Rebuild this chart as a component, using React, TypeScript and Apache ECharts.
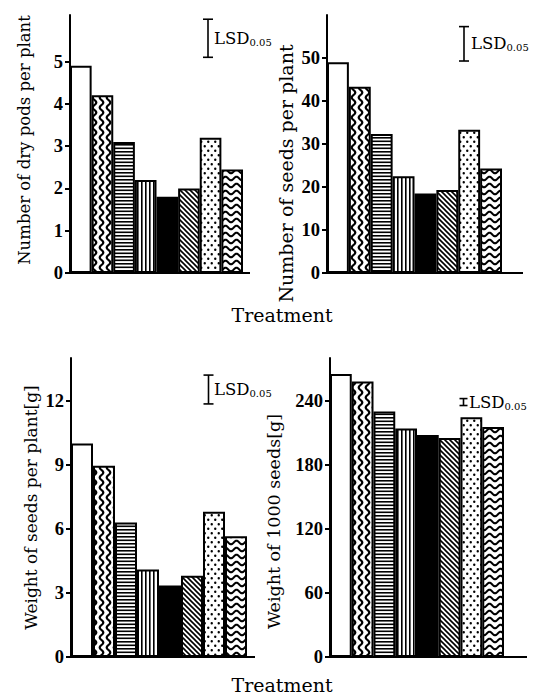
import React, { useEffect, useRef } from 'react';
import * as echarts from 'echarts';

// Eight treatments, drawn left to right in each panel
const treatments = ['T1', 'T2', 'T3', 'T4', 'T5', 'T6', 'T7', 'T8'];

// Panel values
const dryPodsPerPlant = [4.9, 4.2, 3.1, 2.2, 1.8, 2.0, 3.2, 2.45];
const seedsPerPlant = [49, 43.3, 32.3, 22.5, 18.5, 19.3, 33.3, 24.3];
const seedWeightPerPlant = [10, 8.95, 6.3, 4.1, 3.35, 3.8, 6.8, 5.65];
const thousandSeedWeight = [265, 258, 230, 214, 208, 205, 224.5, 215.5];

// Tick values shown on each y axis
const ticksDryPods = [0, 1, 2, 3, 4, 5];
const ticksSeeds = [0, 10, 20, 30, 40, 50];
const ticksSeedWeight = [0, 3, 6, 9, 12];
const ticksThousand = [0, 60, 120, 180, 240];

// Axis extents
const axisMax = [6.1, 60, 14, 280];

// LSD(0.05) bar length and where its upper end sits, per panel
const lsdValues = [0.9, 8, 1.35, 6.5];
const lsdTops = [6.0, 57.3, 13.2, 242];

const yNames = [
  'Number of dry pods per plant',
  'Number of seeds per plant',
  'Weight of seeds per plant[g]',
  'Weight of 1000 seeds[g]',
];
const xTitle = 'Treatment';

const panelData = [dryPodsPerPlant, seedsPerPlant, seedWeightPerPlant, thousandSeedWeight];
const panelTicks = [ticksDryPods, ticksSeeds, ticksSeedWeight, ticksThousand];

// Layout of the four panels (pixels)
const layout = [
  { left: 70, top: 15, width: 173, height: 258, axisEnd: 250, nameGap: 37, nameSize: 16.5, namePad: [0, 0, 0, 8], lsdX: 208, cap: 10, lsdLabelX: 214 },
  { left: 327, top: 15, width: 175, height: 258, axisEnd: 523, nameGap: 32, nameSize: 19, namePad: [0, 59, 0, 0], lsdX: 464, cap: 10, lsdLabelX: 471 },
  { left: 71, top: 358, width: 176, height: 299, axisEnd: 255, nameGap: 32, nameSize: 17, namePad: [0, 0, 0, 0], lsdX: 208.5, cap: 10, lsdLabelX: 214 },
  { left: 330, top: 358, width: 174, height: 299, axisEnd: 527, nameGap: 47, nameSize: 17.5, namePad: [0, 28, 0, 0], lsdX: 463.5, cap: 8, lsdLabelX: 469 },
];

const NUM_FONT = 'Liberation Serif';
const TEXT_FONT = 'DejaVu Serif';

function tile(w: number, h: number, draw: (g: CanvasRenderingContext2D) => void) {
  const c = document.createElement('canvas');
  c.width = w;
  c.height = h;
  const g = c.getContext('2d')!;
  g.fillStyle = '#fff';
  g.fillRect(0, 0, w, h);
  g.strokeStyle = '#000';
  g.fillStyle = '#000';
  draw(g);
  return { image: c, repeat: 'repeat', imageWidth: w, imageHeight: h };
}

function makeFills(): any[] {
  const wavyV = tile(7, 10, (g) => {
    g.lineWidth = 2.2;
    g.beginPath();
    for (let y = -1; y <= 11; y += 0.5) {
      const x = 3.5 + 1.8 * Math.sin((2 * Math.PI * y) / 10);
      if (y === -1) g.moveTo(x, y);
      else g.lineTo(x, y);
    }
    g.stroke();
  });
  const hLines = tile(8, 7, (g) => {
    g.fillRect(0, 0.5, 8, 1.6);
    g.fillRect(0, 4, 8, 1.6);
  });
  const vLines = tile(4, 4, (g) => {
    g.fillRect(1, 0, 1.6, 4);
  });
  const diag = tile(5, 5, (g) => {
    g.lineWidth = 1.6;
    g.beginPath();
    g.moveTo(-1, -1);
    g.lineTo(6, 6);
    g.moveTo(-1, 4);
    g.lineTo(1, 6);
    g.moveTo(4, -1);
    g.lineTo(6, 1);
    g.stroke();
  });
  const dots = tile(7, 9, (g) => {
    g.beginPath();
    g.arc(1.75, 2.25, 1.2, 0, Math.PI * 2);
    g.arc(5.25, 6.75, 1.2, 0, Math.PI * 2);
    g.fill();
  });
  const wavyH = tile(11, 7, (g) => {
    g.lineWidth = 2;
    g.beginPath();
    for (let x = -1; x <= 12; x += 0.5) {
      const y = 3.5 + 1.8 * Math.cos((2 * Math.PI * x) / 11);
      if (x === -1) g.moveTo(x, y);
      else g.lineTo(x, y);
    }
    g.stroke();
  });
  return ['#ffffff', wavyV, hLines, vLines, '#000000', diag, dots, wavyH];
}

export default function App() {
  const ref = useRef<HTMLDivElement>(null);

  useEffect(() => {
    const chart = echarts.init(ref.current!, null, { renderer: 'svg' });
    const fills = makeFills();

    const option: any = {
      animation: false,
      backgroundColor: '#ffffff',
      grid: layout.map((p) => ({ left: p.left, top: p.top, width: p.width, height: p.height })),
      xAxis: layout.map((p, i) => ({
        type: 'category',
        gridIndex: i,
        data: treatments,
        axisLine: { show: true, lineStyle: { color: '#000', width: 2 } },
        axisTick: { show: false },
        axisLabel: { show: false },
      })),
      yAxis: layout.map((p, i) => ({
        type: 'value',
        gridIndex: i,
        min: 0,
        max: axisMax[i],
        splitLine: { show: false },
        axisLine: { show: true, lineStyle: { color: '#000', width: 2 } },
        axisTick: {
          show: true,
          length: 5,
          customValues: panelTicks[i],
          lineStyle: { color: '#000', width: 2 },
        },
        axisLabel: {
          customValues: panelTicks[i],
          margin: 7,
          color: '#000',
          fontFamily: NUM_FONT,
          fontSize: 18.5,
          fontWeight: 'bold',
        },
        name: yNames[i],
        nameLocation: 'middle',
        nameRotate: 90,
        nameGap: p.nameGap,
        nameTextStyle: {
          color: '#000',
          fontFamily: TEXT_FONT,
          fontSize: p.nameSize,
          padding: p.namePad,
        },
      })),
      series: layout.map((p, i) => ({
        type: 'bar',
        xAxisIndex: i,
        yAxisIndex: i,
        barCategoryGap: '0%',
        data: panelData[i].map((v, k) => ({ value: v, itemStyle: { color: fills[k] } })),
        itemStyle: { borderColor: '#000', borderWidth: 2 },
      })),
    };

    chart.setOption(option);

    const graphics: any[] = [];
    layout.forEach((p, i) => {
      const yBase = chart.convertToPixel({ yAxisIndex: i }, 0) as number;
      // baseline continues past the last bar
      graphics.push({
        type: 'line',
        shape: { x1: p.left + p.width - 1, y1: yBase, x2: p.axisEnd, y2: yBase },
        style: { stroke: '#000', lineWidth: 2 },
      });
      // LSD(0.05) I-beam
      const y1 = chart.convertToPixel({ yAxisIndex: i }, lsdTops[i]) as number;
      const y2 = chart.convertToPixel({ yAxisIndex: i }, lsdTops[i] - lsdValues[i]) as number;
      const h = p.cap / 2;
      graphics.push(
        { type: 'line', shape: { x1: p.lsdX, y1, x2: p.lsdX, y2 }, style: { stroke: '#000', lineWidth: 1.6 } },
        { type: 'line', shape: { x1: p.lsdX - h, y1, x2: p.lsdX + h, y2: y1 }, style: { stroke: '#000', lineWidth: 1.6 } },
        { type: 'line', shape: { x1: p.lsdX - h, y1: y2, x2: p.lsdX + h, y2 }, style: { stroke: '#000', lineWidth: 1.6 } },
        {
          type: 'text',
          x: p.lsdLabelX,
          y: (y1 + y2) / 2,
          style: {
            text: '{a|LSD}{b|0.05}',
            verticalAlign: 'middle',
            align: 'left',
            rich: {
              a: { fontFamily: TEXT_FONT, fontSize: 16.5, fill: '#000', lineHeight: 18 },
              b: { fontFamily: TEXT_FONT, fontSize: 10, fill: '#000', verticalAlign: 'bottom', lineHeight: 12 },
            },
          },
        }
      );
    });
    // shared x titles under each row
    [315, 685].forEach((y) => {
      graphics.push({
        type: 'text',
        x: 282,
        y,
        style: {
          text: xTitle,
          fontFamily: TEXT_FONT,
          fontSize: 19,
          fill: '#000',
          align: 'center',
          verticalAlign: 'middle',
        },
      });
    });
    chart.setOption({ graphic: graphics });

    return () => chart.dispose();
  }, []);

  return (
    <div
      ref={ref}
      style={{ position: 'fixed', left: 0, top: 0, width: 534, height: 697, background: '#fff' }}
    />
  );
}
